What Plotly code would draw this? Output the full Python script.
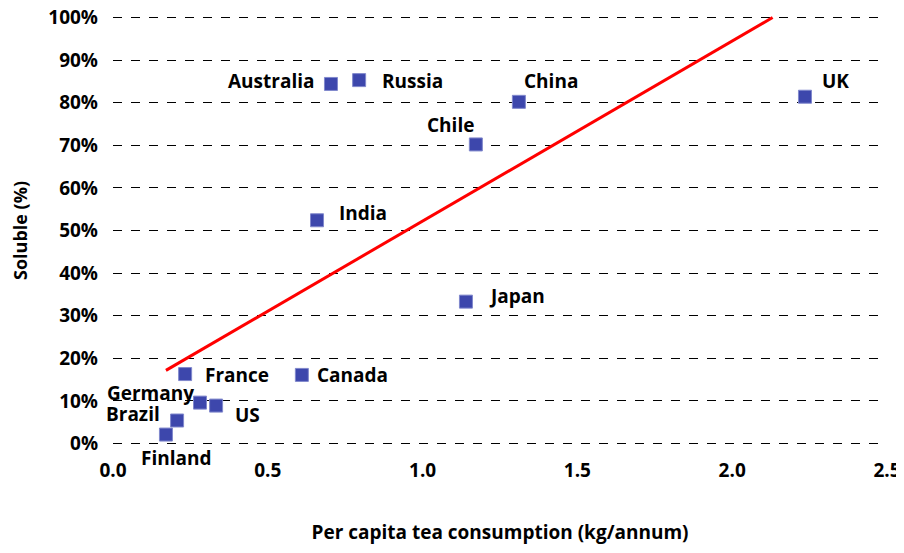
import numpy as np
import plotly.graph_objects as go

countries = ["Finland", "Brazil", "Germany", "US", "France", "Canada", "India",
             "Australia", "Russia", "Japan", "Chile", "China", "UK"]
consumption = [0.171, 0.207, 0.281, 0.333, 0.233, 0.610, 0.659,
               0.704, 0.795, 1.140, 1.172, 1.311, 2.235]
soluble = [2.1, 5.4, 9.6, 8.9, 16.3, 16.1, 52.4,
           84.4, 85.3, 33.3, 70.2, 80.2, 81.4]

x_ticks = [0.0, 0.5, 1.0, 1.5, 2.0, 2.5]
y_ticks = [0, 10, 20, 30, 40, 50, 60, 70, 80, 90, 100]

# label placement (style): xanchor, xshift, yshift in px
label_style = {
    "Finland": ("center", 11, -23),
    "Brazil": ("right", -15, 7),
    "Germany": ("right", -4, 10),
    "US": ("left", 17, -9),
    "France": ("left", 18, -1),
    "Canada": ("left", 13, 0),
    "India": ("left", 20, 7),
    "Australia": ("right", -15, 3),
    "Russia": ("left", 21, -1),
    "Japan": ("left", 21, 6),
    "Chile": ("center", -25, 19),
    "China": ("center", 32, 21),
    "UK": ("left", 15, 16),
}

FONT = "Open Sans"

# linear trend line, clipped at the 100% ceiling of the chart
slope, intercept = np.polyfit(consumption, soluble, 1)
x_end = min(max(consumption), (100 - intercept) / slope)
tx = np.array([min(consumption), x_end])
ty = slope * tx + intercept

fig = go.Figure()
fig.add_trace(go.Scatter(
    x=tx, y=ty, mode="lines",
    line=dict(color="#FF0000", width=3),
    hoverinfo="skip", showlegend=False,
))
fig.add_trace(go.Scatter(
    x=consumption, y=soluble, mode="markers",
    marker=dict(symbol="square", size=13, color="#3D47AC",
                line=dict(color="#8088CC", width=1)),
    text=countries, showlegend=False, cliponaxis=False,
))

for c, xv, yv in zip(countries, consumption, soluble):
    xa, dx, dy = label_style[c]
    fig.add_annotation(
        x=xv, y=yv, text="<b>%s</b>" % c, showarrow=False,
        xanchor=xa, yanchor="middle", xshift=dx, yshift=dy,
        font=dict(family=FONT, size=19, color="#000000"),
    )

# page body has an 8px margin, so the figure is sized to fit the window
fig.update_layout(
    width=896, height=537,
    margin=dict(l=105, r=17, t=8, b=100),
    paper_bgcolor="white", plot_bgcolor="white",
    font=dict(family=FONT, size=19, color="#000000"),
    xaxis=dict(
        range=[0, 2.5], tickvals=x_ticks,
        ticktext=["<b>%.1f</b>" % v for v in x_ticks],
        showgrid=False, zeroline=False, showline=False,
        ticks="", automargin=False, ticklabelstandoff=12,
        ticklabeloverflow="allow",
        tickfont=dict(family=FONT, size=19),
        title=dict(text="<b>Per capita tea consumption (kg/annum)</b>",
                   font=dict(family=FONT, size=19), standoff=50),
    ),
    yaxis=dict(
        range=[-0.35, 100.35], tickvals=y_ticks,
        ticktext=["<b>%d%%</b>" % v for v in y_ticks],
        showgrid=True, gridcolor="#000000", gridwidth=1, griddash="dash",
        zeroline=False, showline=False, ticks="",
        automargin=False, ticklabelstandoff=14,
        ticklabeloverflow="allow",
        tickfont=dict(family=FONT, size=19),
        title=dict(text="<b>Soluble (%)</b>",
                   font=dict(family=FONT, size=18), standoff=16),
    ),
)

fig.write_html("out.html")
